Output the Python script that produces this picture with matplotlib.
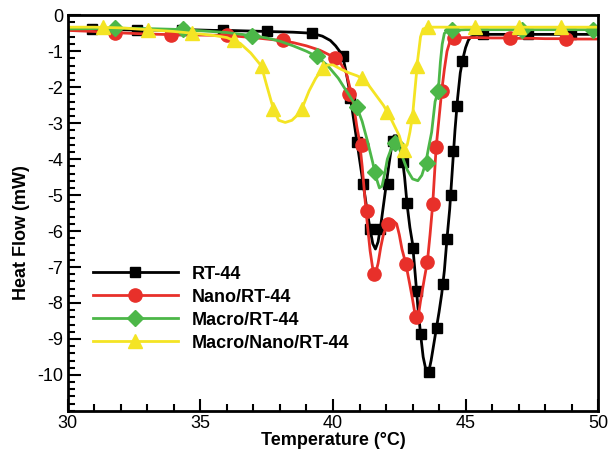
import matplotlib
matplotlib.use("Agg")
import matplotlib.pyplot as plt
from matplotlib.ticker import MultipleLocator

plt.rcParams['font.family'] = ['Liberation Sans', 'DejaVu Sans']
plt.rcParams['axes.unicode_minus'] = False

# RT-44 curve
t_rt = [30.0, 30.5, 31.0, 31.5, 32.0, 32.5, 33.0, 33.5, 34.0, 34.5, 35.0, 35.5, 36.0, 36.5,
        37.0, 37.5, 38.0, 38.5, 39.0, 39.3, 39.6, 39.9, 40.1, 40.3, 40.4, 40.5, 40.6, 40.7,
        40.8, 40.9, 41.0, 41.1, 41.2, 41.3, 41.4, 41.5, 41.6, 41.7, 41.8, 41.9, 42.0, 42.1,
        42.2, 42.3, 42.4, 42.5, 42.6, 42.7, 42.8, 42.9, 43.0, 43.1, 43.2, 43.3, 43.4, 43.5,
        43.6, 43.7, 43.8, 43.9, 44.0, 44.1, 44.2, 44.3, 44.4, 44.5, 44.6, 44.7, 44.8, 44.9,
        45.0, 45.1, 45.2, 45.4, 45.7, 46.0, 46.5, 47.0, 47.5, 48.0, 48.5, 49.0, 49.5, 50.0]
hf_rt = [-0.38, -0.38, -0.38, -0.39, -0.40, -0.41, -0.41, -0.41, -0.40, -0.40, -0.41, -0.42, -0.42, -0.43,
         -0.44, -0.45, -0.46, -0.47, -0.49, -0.52, -0.58, -0.70, -0.85, -1.05, -1.25, -1.60, -2.00, -2.50,
         -3.00, -3.50, -4.00, -4.50, -5.00, -5.50, -5.95, -6.35, -6.50, -6.30, -5.85, -5.30, -4.75, -4.20,
         -3.70, -3.35, -3.35, -3.55, -3.90, -4.50, -5.30, -5.90, -6.35, -7.20, -8.10, -8.85, -9.50, -9.85,
         -9.95, -9.60, -9.15, -8.70, -8.25, -7.75, -7.10, -6.20, -5.40, -4.30, -3.20, -2.30, -1.60, -1.20,
         -0.90, -0.70, -0.60, -0.55, -0.53, -0.53, -0.53, -0.53, -0.53, -0.53, -0.53, -0.53, -0.53, -0.53]
# RT-44 symbols
tm_rt = [30.9, 32.6, 34.3, 35.85, 37.5, 39.2, 40.39, 40.64, 40.89, 41.14, 41.4, 41.77, 42.09, 42.25,
         42.64, 42.78, 43.03, 43.15, 43.3, 43.62, 43.91, 44.15, 44.29, 44.44, 44.54, 44.67, 44.87,
         45.66, 47.36, 48.98]
hm_rt = [-0.38, -0.41, -0.40, -0.42, -0.45, -0.49, -1.14, -2.31, -3.51, -4.68, -5.93, -5.93, -4.68, -3.49,
         -4.08, -5.23, -6.48, -7.67, -8.87, -9.93, -8.70, -7.47, -6.23, -5.00, -3.76, -2.53, -1.28,
         -0.53, -0.53, -0.53]

# Nano/RT-44 curve
t_nano = [30.0, 31.0, 32.0, 33.0, 34.0, 35.0, 36.0, 37.0, 38.0, 38.5, 39.0, 39.5, 40.0, 40.3,
          40.5, 40.7, 40.8, 40.9, 41.0, 41.1, 41.2, 41.3, 41.4, 41.5, 41.58, 41.7, 41.8, 41.9,
          42.0, 42.1, 42.25, 42.4, 42.5, 42.6, 42.75, 42.9, 43.0, 43.1, 43.18, 43.3, 43.45, 43.56,
          43.66, 43.76, 43.89, 44.0, 44.1, 44.2, 44.3, 44.4, 44.55, 45.0, 45.5, 46.0, 46.5, 47.0,
          47.5, 48.0, 48.5, 49.0, 49.5, 50.0]
hf_nano = [-0.42, -0.45, -0.49, -0.52, -0.54, -0.55, -0.56, -0.62, -0.70, -0.76, -0.85, -0.97, -1.15, -1.35,
           -1.60, -2.20, -2.60, -3.10, -3.50, -4.20, -5.05, -5.85, -6.55, -7.05, -7.25, -6.90, -6.45, -6.10,
           -5.90, -5.78, -5.70, -5.80, -6.10, -6.50, -6.92, -7.50, -7.90, -8.35, -8.55, -7.95, -7.30, -6.85,
           -6.10, -5.26, -3.67, -2.85, -2.10, -1.50, -1.00, -0.75, -0.63, -0.62, -0.62, -0.63, -0.63, -0.64,
           -0.64, -0.65, -0.65, -0.66, -0.66, -0.66]
# Nano/RT-44 symbols
tm_nano = [31.77, 33.9, 36.0, 38.1, 40.08, 40.6, 41.08, 41.27, 41.55, 42.09, 42.75, 43.13, 43.56, 43.76,
           43.89, 44.1, 44.57, 46.68, 48.8]
hm_nano = [-0.49, -0.54, -0.56, -0.70, -1.18, -2.20, -3.60, -5.45, -7.20, -5.79, -6.92, -8.40, -6.85, -5.26,
           -3.67, -2.10, -0.63, -0.63, -0.66]

# Macro/RT-44 curve
t_macro = [30.0, 31.0, 32.0, 33.0, 34.0, 35.0, 36.0, 37.0, 37.5, 38.0, 38.5, 39.0, 39.4, 39.8,
           40.2, 40.5, 40.9, 41.1, 41.3, 41.5, 41.6, 41.75, 41.85, 41.95, 42.05, 42.2, 42.35, 42.5,
           42.65, 42.8, 43.0, 43.2, 43.35, 43.5, 43.6, 43.72, 43.85, 43.97, 44.05, 44.12, 44.2, 44.35,
           45.0, 45.5, 46.0, 46.5, 47.0, 47.5, 48.0, 48.5, 49.0, 49.5, 50.0]
hf_macro = [-0.38, -0.37, -0.36, -0.37, -0.39, -0.43, -0.48, -0.57, -0.63, -0.72, -0.85, -1.00, -1.15, -1.40,
            -1.75, -2.10, -2.55, -2.95, -3.50, -4.10, -4.45, -4.80, -4.75, -4.40, -4.00, -3.70, -3.55, -3.70,
            -4.00, -4.30, -4.55, -4.60, -4.45, -4.10, -3.70, -3.25, -2.40, -2.10, -1.30, -0.80, -0.50, -0.42,
            -0.40, -0.40, -0.40, -0.40, -0.40, -0.40, -0.40, -0.40, -0.40, -0.40, -0.40]
# Macro/RT-44 symbols
tm_macro = [31.77, 34.35, 36.93, 39.38, 40.89, 41.58, 42.34, 43.53, 43.97, 44.5, 47.14, 49.8]
hm_macro = [-0.36, -0.39, -0.57, -1.14, -2.55, -4.35, -3.55, -4.10, -2.10, -0.41, -0.40, -0.40]

# Macro/Nano/RT-44 curve
t_mn = [30.0, 31.0, 32.0, 33.0, 34.0, 35.0, 35.5, 36.0, 36.5, 36.9, 37.3, 37.5, 37.75, 37.95,
        38.2, 38.45, 38.65, 38.82, 39.1, 39.35, 39.63, 39.8, 40.0, 40.3, 40.6, 40.9, 41.1, 41.3,
        41.5, 41.7, 41.9, 42.1, 42.3, 42.5, 42.66, 42.8, 42.9, 43.0, 43.1, 43.2, 43.3, 43.4,
        43.6, 44.0, 44.5, 45.0, 45.5, 46.0, 46.5, 47.0, 47.5, 48.0, 48.5, 49.0, 49.5, 50.0]
hf_mn = [-0.33, -0.33, -0.35, -0.40, -0.45, -0.52, -0.56, -0.62, -0.78, -1.05, -1.41, -1.95, -2.60, -2.92,
         -2.98, -2.92, -2.78, -2.61, -2.10, -1.75, -1.46, -1.38, -1.38, -1.50, -1.60, -1.68, -1.75, -1.90,
         -2.10, -2.30, -2.50, -2.75, -3.05, -3.35, -3.75, -3.60, -3.25, -2.80, -2.00, -1.20, -0.60, -0.38,
         -0.33, -0.33, -0.33, -0.33, -0.33, -0.33, -0.33, -0.33, -0.33, -0.33, -0.33, -0.33, -0.33, -0.33]
# Macro/Nano/RT-44 symbols
tm_mn = [31.33, 33.03, 34.67, 36.27, 37.31, 37.75, 38.82, 39.63, 41.08, 42.03, 42.66, 43.03, 43.16,
         43.6, 45.36, 47.0, 48.6]
hm_mn = [-0.33, -0.40, -0.48, -0.68, -1.41, -2.61, -2.61, -1.46, -1.74, -2.70, -3.75, -2.80, -1.41,
         -0.33, -0.33, -0.33, -0.33]

labels = ['RT-44', 'Nano/RT-44', 'Macro/RT-44', 'Macro/Nano/RT-44']
colors = ['black', '#e8302a', '#4cb748', '#f4e424']
markers = ['s', 'o', 'D', '^']
msizes = [6.5, 9.5, 8, 9.5]
curves = [(t_rt, hf_rt), (t_nano, hf_nano), (t_macro, hf_macro), (t_mn, hf_mn)]
symbols = [(tm_rt, hm_rt), (tm_nano, hm_nano), (tm_macro, hm_macro), (tm_mn, hm_mn)]

fig = plt.figure(figsize=(6.11, 4.5), dpi=100)
ax = fig.add_axes([0.111, 0.087, 0.868, 0.879])

handles = []
for (tx, hy), (mx, my), c, m, ms in zip(curves, symbols, colors, markers, msizes):
    ln, = ax.plot(tx, hy, color=c, lw=2)
    pts, = ax.plot(mx, my, ls='none', marker=m, ms=ms, color=c)
    handles.append((ln, pts))

ax.set_xlim(30, 50)
ax.set_ylim(-11, 0)
ax.set_yticks(range(-10, 1))
ax.xaxis.set_major_locator(MultipleLocator(5))
ax.xaxis.set_minor_locator(MultipleLocator(1))
ax.yaxis.set_minor_locator(MultipleLocator(0.2))
ax.tick_params(which='both', direction='in', top=False, right=False, labelsize=13, width=1.5)
ax.tick_params(which='major', length=9)
ax.tick_params(which='minor', length=5)
ax.tick_params(axis='x', pad=3)
for s in ax.spines.values():
    s.set_linewidth(2)

ax.set_xlabel('Temperature (°C)', fontsize=13, fontweight='bold', labelpad=0)
ax.set_ylabel('Heat Flow (mW)', fontsize=13, fontweight='bold')
ax.yaxis.set_label_coords(-0.071, 0.45)

ax.legend(handles, labels, loc='upper left', bbox_to_anchor=(0.047, 0.367), frameon=False,
          prop={'weight': 'bold', 'size': 13}, handlelength=4.7, handletextpad=0.8,
          labelspacing=0.33, borderpad=0, borderaxespad=0, numpoints=1)

fig.savefig('out.png', dpi=100)
